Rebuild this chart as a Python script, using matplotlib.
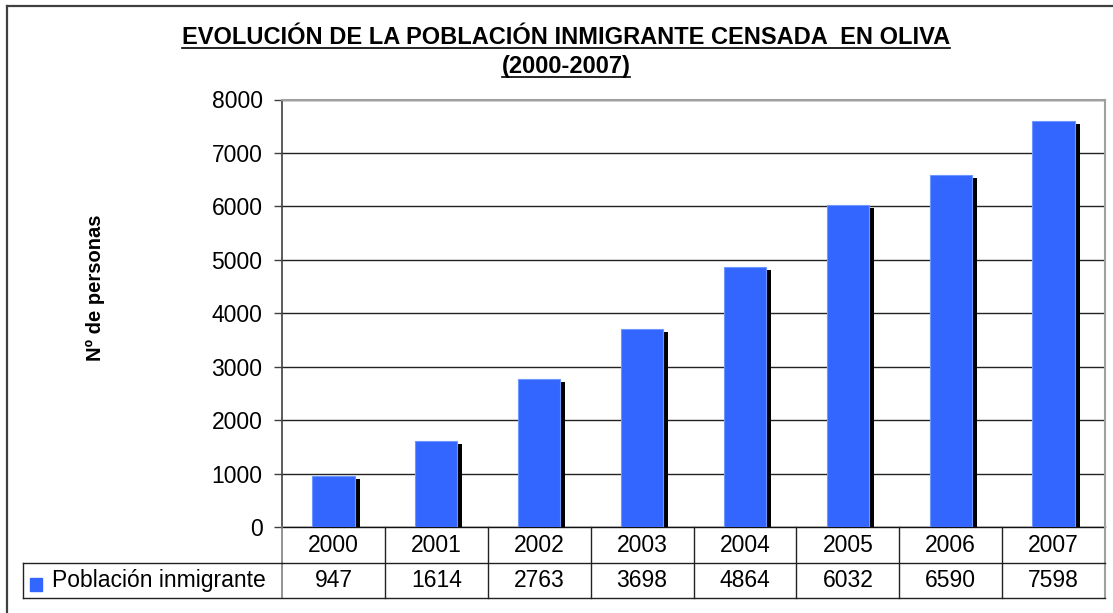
import numpy as np
import matplotlib
matplotlib.use("Agg")
import matplotlib.pyplot as plt
from matplotlib.lines import Line2D
from matplotlib.patches import Rectangle
from matplotlib.transforms import offset_copy, blended_transform_factory

years = ["2000", "2001", "2002", "2003", "2004", "2005", "2006", "2007"]
poblacion = [947, 1614, 2763, 3698, 4864, 6032, 6590, 7598]
serie = "Población inmigrante"
yticks = [0, 1000, 2000, 3000, 4000, 5000, 6000, 7000, 8000]
titulo1 = "EVOLUCIÓN DE LA POBLACIÓN INMIGRANTE CENSADA  EN OLIVA"
titulo2 = "(2000-2007)"
ylabel = "Nº de personas"

plt.rcParams.update({'font.family': ['Liberation Sans', 'DejaVu Sans'],
                     'font.size': 14})

W, H = 1113, 613
DPI = 100
BLUE = '#3366FF'
FS = 16.5


def fx(px):
    return px / W


def fy(py):
    return 1 - py / H


fig = plt.figure(figsize=(W / DPI, H / DPI), dpi=DPI)
fig.patch.set_facecolor('white')

# plot area in pixels
L, R, T, B = 282, 1105, 99.5, 527
ax = fig.add_axes([fx(L), fy(B), fx(R) - fx(L), fy(T) - fy(B)])

x = np.arange(len(years))
width = 0.41

# shadow of each bar, shifted right/down a few pixels
shadow_tr = offset_copy(ax.transData, fig=fig, x=5, y=-3, units='dots')
ax.bar(x, poblacion, width, color='black', transform=shadow_tr, zorder=2)
ax.bar(x, poblacion, width, color=BLUE, edgecolor='#6E96FF', lw=0.8, zorder=3)

ax.set_xlim(-0.5, len(years) - 0.5)
ax.set_ylim(0, 8000)
ax.set_yticks(yticks)
ax.set_xticks([])
ax.grid(axis='y', color='#222222', lw=1.0, zorder=1)
ax.set_axisbelow(True)
ax.tick_params(axis='y', direction='out', length=6, width=1, pad=8,
               labelsize=FS, color='#404040')

for s in ['top', 'right']:
    ax.spines[s].set_color('#A0A0A0')
    ax.spines[s].set_linewidth(1.5)
ax.spines['left'].set_color('#404040')
ax.spines['left'].set_linewidth(1.2)
ax.spines['bottom'].set_color('#111111')
ax.spines['bottom'].set_linewidth(1.0)

ax.text(fx(95), fy(288), ylabel, transform=fig.transFigure, rotation=90,
        ha='center', va='center', fontsize=14.5, fontweight='bold')

# data table under the plot
r1, r2, r3 = B, 563, 598
tb = blended_transform_factory(ax.transData, fig.transFigure)
lc = '#222222'
for i in range(1, len(years)):
    fig.add_artist(Line2D([i - 0.5, i - 0.5], [fy(r1), fy(r3)], transform=tb,
                          color=lc, lw=1.0))
fig.add_artist(Line2D([fx(L), fx(L)], [fy(r1), fy(r3)], color='#808080', lw=1.2))
fig.add_artist(Line2D([fx(R), fx(R)], [fy(r1), fy(r3)], color='#A0A0A0', lw=1.5))
fig.add_artist(Line2D([fx(L), fx(R)], [fy(r2), fy(r2)], color=lc, lw=1.0))
fig.add_artist(Line2D([fx(23), fx(R)], [fy(r3), fy(r3)], color=lc, lw=1.0))
fig.add_artist(Line2D([fx(23), fx(L)], [fy(r2), fy(r2)], color=lc, lw=1.0))
fig.add_artist(Line2D([fx(23), fx(23)], [fy(r2), fy(r3)], color=lc, lw=1.0))

for i, (yr, v) in enumerate(zip(years, poblacion)):
    fig.text(i, fy((r1 + r2) / 2), yr, transform=tb, ha='center', va='center',
             fontsize=FS)
    fig.text(i, fy((r2 + r3) / 2), str(v), transform=tb, ha='center',
             va='center', fontsize=FS)

fig.add_artist(Rectangle((fx(30), fy(591)), fx(12), 13 / H, color=BLUE,
                         transform=fig.transFigure))
fig.text(fx(52), fy((r2 + r3) / 2), serie, ha='left', va='center', fontsize=FS)

# title, underlined
t1 = fig.text(fx(566), fy(37), titulo1, ha='center', va='center', fontsize=17,
              fontweight='bold')
t2 = fig.text(fx(566), fy(66), titulo2, ha='center', va='center', fontsize=17,
              fontweight='bold')
fig.canvas.draw()
for t in (t1, t2):
    bb = t.get_window_extent()
    yl = bb.y0 + 1
    fig.add_artist(Line2D([bb.x0 / W, bb.x1 / W], [yl / H, yl / H],
                          color='black', lw=1.2))

# outer chart border
fig.add_artist(Line2D([fx(7), fx(W)], [fy(6), fy(6)], color='#404040', lw=1.6))
fig.add_artist(Line2D([fx(7), fx(7)], [fy(6), fy(H)], color='#404040', lw=1.6))

fig.savefig('out.png', dpi=DPI)
